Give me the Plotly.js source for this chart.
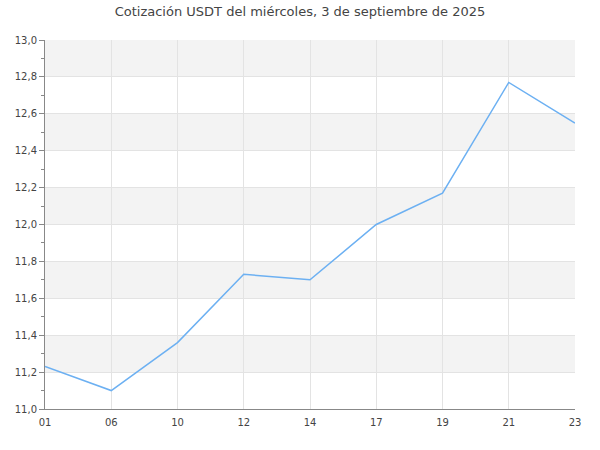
<!DOCTYPE html>
<html>
<head>
<meta charset="utf-8">
<script src="https://cdn.plot.ly/plotly-3.0.1.min.js"></script>
<style>html,body{margin:0;padding:0;background:#fff;}#chart{width:600px;height:450px;}</style>
</head>
<body>
<div id="chart"></div>
<script>
const categories = ["01", "06", "10", "12", "14", "17", "19", "21", "23"];
const values = [11.23, 11.10, 11.36, 11.73, 11.70, 12.00, 12.17, 12.77, 12.55];
const titleText = "Cotización USDT del miércoles, 3 de septiembre de 2025";
const yMin = 11.0, yMax = 13.0, yStep = 0.2;

const shapes = [];
for (let i = 0; yMin + i * yStep < yMax - 1e-9; i++) {
  if (i % 2 === 1) {
    shapes.push({type: 'rect', xref: 'paper', yref: 'y', x0: 0, x1: 1,
      y0: yMin + i * yStep, y1: yMin + (i + 1) * yStep,
      fillcolor: '#f3f3f3', line: {width: 0}, layer: 'below'});
  }
}

const trace = {
  x: categories, y: values, type: 'scatter', mode: 'lines',
  line: {color: '#6cb0f2', width: 1.5}, hoverinfo: 'skip'
};

const layout = {
  width: 600, height: 450,
  margin: {l: 45, r: 25, t: 40, b: 41},
  paper_bgcolor: '#fff', plot_bgcolor: '#fff',
  separators: ',.',
  font: {family: 'DejaVu Sans, sans-serif', size: 10, color: '#444'},
  title: {text: titleText, font: {size: 13, color: '#444', family: 'DejaVu Sans, sans-serif'},
    x: 0.5, xanchor: 'center', y: 1 - 11/450, yanchor: 'middle', yref: 'container'},
  showlegend: false,
  shapes: shapes,
  xaxis: {type: 'category', range: [0, categories.length - 1], showgrid: true, gridcolor: '#e3e3e3',
    showline: true, linecolor: '#888', linewidth: 1, ticks: '', zeroline: false, ticklabelstandoff: 4,
    tickfont: {size: 10, color: '#444'}, fixedrange: true},
  yaxis: {range: [yMin, yMax], dtick: yStep, tick0: yMin, tickformat: '.1f', showgrid: true, gridcolor: '#e3e3e3',
    showline: true, linecolor: '#888', linewidth: 1, ticks: 'outside', ticklen: 5, tickcolor: '#888',
    minor: {dtick: 0.1, ticks: 'outside', ticklen: 3, tickcolor: '#888', showgrid: false},
    zeroline: false, tickfont: {size: 10, color: '#444'}, fixedrange: true}
};

Plotly.newPlot('chart', [trace], layout, {staticPlot: true, displayModeBar: false});
</script>
</body>
</html>
